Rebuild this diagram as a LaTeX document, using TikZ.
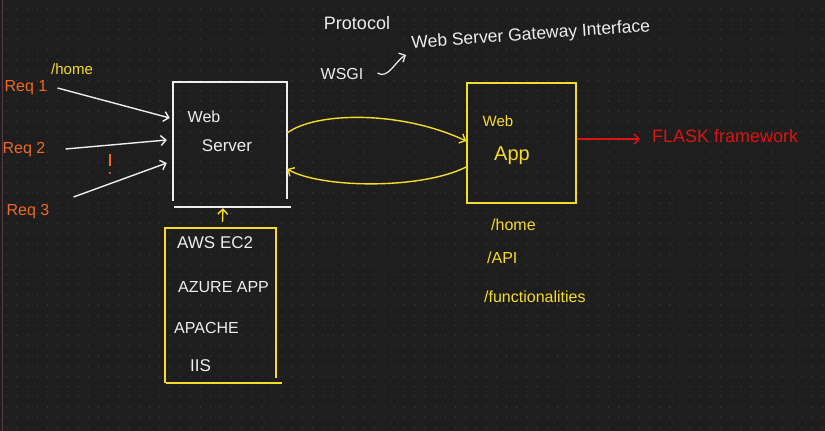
\documentclass[tikz,border=0pt]{standalone}
\usepackage{fontspec}
\setmainfont{Liberation Sans}
\usetikzlibrary{arrows.meta,calc}
\definecolor{bgc}{HTML}{1E1E1E}
\definecolor{dotc}{HTML}{383838}
\definecolor{wh}{HTML}{EDEDED}
\definecolor{yel}{HTML}{F5DC28}
\definecolor{org}{HTML}{F06A1E}
\definecolor{redc}{HTML}{DC1414}
\definecolor{pinkline}{HTML}{5A3A4A}
\begin{document}
\begin{tikzpicture}[x=1pt,y=-1pt,
  txt/.style={inner sep=0pt, font=\fontsize{16}{19}\selectfont},
  wt/.style={txt, text=wh},
  yt/.style={txt, text=yel},
  ot/.style={txt, text=org},
  rt/.style={txt, text=redc},
  box/.style={inner sep=0pt, draw=none},
  wline/.style={draw=wh, line width=1.6pt},
  yline/.style={draw=yel, line width=1.6pt},
  warrow/.style={draw=wh, line width=1.4pt, -{Straight Barb[length=5pt,width=10pt]}},
  yarrow/.style={draw=yel, line width=1.4pt, -{Straight Barb[length=5pt,width=10pt]}},
  rarrow/.style={draw=redc, line width=1.4pt, -{Straight Barb[length=5pt,width=10pt]}}
]
\fill[bgc] (0,0) rectangle (825,431);
\useasboundingbox (0,0) rectangle (825,431);
\foreach \i in {0,...,80}{\foreach \j in {0,...,41}{\fill[dotc] ({6.7+10.2*\i},{9.2+10.2*\j}) circle (0.8pt);}}
\draw[draw=pinkline, line width=1pt] (2,0) -- (2,431);

% requests
\node[ot] (req1) at (26,88) {Req 1};
\node[yt, font=\fontsize{15}{18}\selectfont] (home1) at (72,69) {/home};
\node[ot] (req2) at (24,150) {Req 2};
\node[ot] (req3) at (28,212) {Req 3};
\draw[draw=org, line width=1.3pt] (110,154) -- (110,166);
\fill[org] (110,173) circle (1.1pt);

% web server
\node[box, minimum width=114pt, minimum height=119pt] (ws) at (230,141.5) {};
\draw[wline] (ws.south west) -- (ws.north west) -- (ws.north east) -- ([yshift=2pt]ws.south east);
\draw[wline] ([xshift=1pt,yshift=-6pt]ws.south west) -- ([xshift=4pt,yshift=-6pt]ws.south east);
\node[wt] (wsweb) at (204,117) {Web};
\node[wt, font=\fontsize{17}{20}\selectfont] (wssrv) at (227,146) {Server};

\draw[warrow] ([xshift=10pt]req1.east) -- ([xshift=-3pt,yshift=23.5pt]ws.west);
\draw[warrow] ([xshift=20pt,yshift=1pt]req2.east) -- ([xshift=-6pt,yshift=1.5pt]ws.west);
\draw[warrow] ([xshift=24pt,yshift=15pt]req3.east) -- ([xshift=-6pt,yshift=-21.5pt]ws.west);

% web app
\node[box, minimum width=109pt, minimum height=120pt, draw=yel, line width=1.6pt] (wa) at (521.5,143) {};
\node[yt, font=\fontsize{15}{18}\selectfont] (waweb) at (498,121) {Web};
\node[yt, font=\fontsize{20}{23}\selectfont] (waapp) at (512,156) {App};

\draw[yarrow] ([yshift=8.5pt]ws.east) .. controls (315,112) and (400,110) .. ([yshift=2pt]wa.west);
\draw[yarrow] ([yshift=-24pt]wa.west) .. controls (420,190) and (320,188) .. ([yshift=-27.5pt]ws.east);

% flask
\node[rt, anchor=west, font=\fontsize{18}{21}\selectfont] (flask) at (652,136) {FLASK framework};
\draw[rarrow] ([yshift=4pt]wa.east) -- ([xshift=-12pt,yshift=-3pt]flask.west);

% servers box
\node[box, minimum width=111pt, minimum height=155pt] (aws) at (220.5,305.5) {};
\draw[yline] (aws.south west) -- (aws.north west) -- (aws.north east) -- ([yshift=5pt]aws.south east);
\draw[yline] ([xshift=1pt]aws.south west) -- ([xshift=6pt]aws.south east);
\draw[yarrow] ([xshift=2pt,yshift=6pt]aws.north) -- ([xshift=-7pt,yshift=-7pt]ws.south);
\node[wt, anchor=west, font=\fontsize{17}{20}\selectfont] (ec2) at (177,243) {AWS EC2};
\node[wt, anchor=west, font=\fontsize{16}{19}\selectfont] (azure) at (178,287) {AZURE APP};
\node[wt, anchor=west, font=\fontsize{16}{19}\selectfont] (apache) at (174,328) {APACHE};
\node[wt, anchor=west, font=\fontsize{17}{20}\selectfont] (iis) at (190,366) {IIS};

% routes
\node[yt, anchor=west] (rhome) at (491,225) {/home};
\node[yt, anchor=west] (rapi) at (487,258) {/API};
\node[yt, anchor=west] (rfunc) at (484,297) {/functionalities};

% protocol
\node[wt, font=\fontsize{18}{21}\selectfont] (proto) at (357,23) {Protocol};
\node[wt, font=\fontsize{16}{19}\selectfont] (wsgi) at (342,74) {WSGI};
\node[wt, anchor=south west, rotate=4, font=\fontsize{17.5}{20}\selectfont] (wsgif) at (412,52) {Web Server Gateway Interface};
\draw[warrow, line width=1.2pt] ([xshift=14pt,yshift=1pt]wsgi.east) .. controls (388,80) and (396,60) .. ([xshift=-6pt,yshift=-3pt]wsgif.south west);
\end{tikzpicture}
\end{document}
